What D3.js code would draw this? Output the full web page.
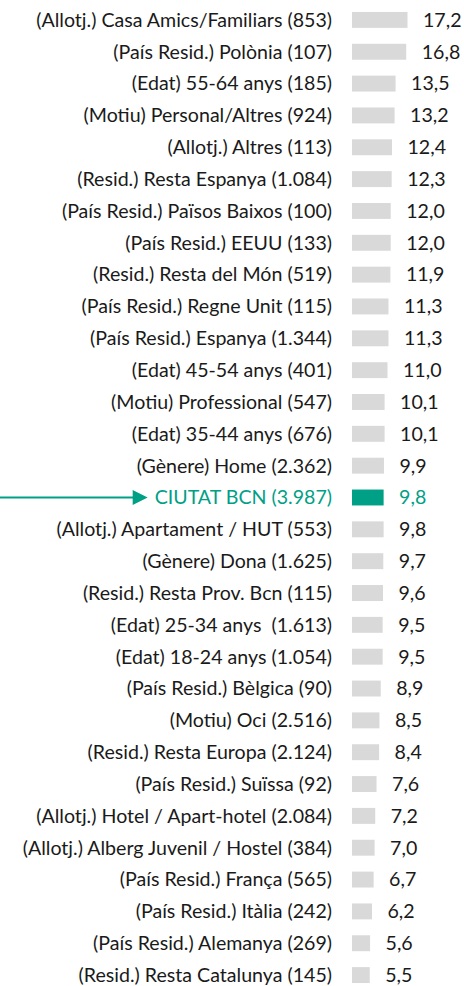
<!DOCTYPE html>
<html>
<head>
<meta charset="utf-8">
<script src="https://cdn.jsdelivr.net/npm/d3@7"></script>
<style>
  html, body { margin: 0; padding: 0; background: #fff; }
  svg { display: block; }
  text { font-family: Lato, "Noto Sans", sans-serif; white-space: pre; }
</style>
</head>
<body>
<svg id="chart" width="464" height="986"></svg>
<script>
// Segment labels (with sample size) and their values
const categories = [
  "(Allotj.) Casa Amics/Familiars (853)",
  "(País Resid.) Polònia (107)",
  "(Edat) 55-64 anys (185)",
  "(Motiu) Personal/Altres (924)",
  "(Allotj.) Altres (113)",
  "(Resid.) Resta Espanya (1.084)",
  "(País Resid.) Països Baixos (100)",
  "(País Resid.) EEUU (133)",
  "(Resid.) Resta del Món (519)",
  "(País Resid.) Regne Unit (115)",
  "(País Resid.) Espanya (1.344)",
  "(Edat) 45-54 anys (401)",
  "(Motiu) Professional (547)",
  "(Edat) 35-44 anys (676)",
  "(Gènere) Home (2.362)",
  "CIUTAT BCN (3.987)",
  "(Allotj.) Apartament / HUT (553)",
  "(Gènere) Dona (1.625)",
  "(Resid.) Resta Prov. Bcn (115)",
  "(Edat) 25-34 anys  (1.613)",
  "(Edat) 18-24 anys (1.054)",
  "(País Resid.) Bèlgica (90)",
  "(Motiu) Oci (2.516)",
  "(Resid.) Resta Europa (2.124)",
  "(País Resid.) Suïssa (92)",
  "(Allotj.) Hotel / Apart-hotel (2.084)",
  "(Allotj.) Alberg Juvenil / Hostel (384)",
  "(País Resid.) França (565)",
  "(País Resid.) Itàlia (242)",
  "(País Resid.) Alemanya (269)",
  "(Resid.) Resta Catalunya (145)"
];
const values = [
  17.2, 16.8, 13.5, 13.2, 12.4, 12.3, 12.0, 12.0, 11.9, 11.3, 11.3,
  11.0, 10.1, 10.1, 9.9, 9.8, 9.8, 9.7, 9.6, 9.5, 9.5, 8.9, 8.5,
  8.4, 7.6, 7.2, 7.0, 6.7, 6.2, 5.6, 5.5
];
const highlight = "CIUTAT BCN (3.987)";

const data = categories.map((c, i) => ({ label: c, value: values[i] }));

const svg = d3.select("#chart");
const barX0 = 352;
const labelRight = 332;
const fontSize = 19.6;
const teal = "#00A086";
const grey = "#D9D9D9";
const ink = "#1a1a1a";
const fmt = v => d3.format(".1f")(v).replace(".", ",");

const x = d3.scaleLinear().domain([0, 17.2]).range([barX0, 407.5]);
const y = d3.scaleBand().domain(categories).range([4, 991]).paddingInner(0.5).paddingOuter(0.25);

const rows = svg.append("g").selectAll("g")
  .data(data).join("g")
  .attr("transform", d => `translate(0,${y(d.label)})`);

rows.append("rect")
  .attr("x", x(0))
  .attr("y", 0)
  .attr("width", d => x(d.value) - x(0))
  .attr("height", y.bandwidth())
  .attr("fill", d => d.label === highlight ? teal : grey);

const labels = rows.append("text")
  .attr("x", labelRight)
  .attr("y", y.bandwidth() / 2)
  .attr("dy", "0.35em")
  .attr("text-anchor", "end")
  .attr("font-size", fontSize)
  .attr("fill", d => d.label === highlight ? teal : ink)
  .text(d => d.label);

rows.append("text")
  .attr("x", d => x(d.value) + 15.5)
  .attr("y", y.bandwidth() / 2)
  .attr("dy", "0.35em")
  .attr("font-size", fontSize)
  .attr("fill", d => d.label === highlight ? teal : ink)
  .text(d => fmt(d.value));

// Pointer arrow toward the city-wide total row, ending just before its label
const yc = y(highlight) + y.bandwidth() / 2;
const hlNode = labels.filter(d => d.label === highlight).node();
const tip = hlNode.getBBox().x - 7;
svg.append("line")
  .attr("x1", 0).attr("x2", tip - 13)
  .attr("y1", yc).attr("y2", yc)
  .attr("stroke", teal).attr("stroke-width", 2);
svg.append("path")
  .attr("d", `M${tip - 15},${yc - 7.5} L${tip},${yc} L${tip - 15},${yc + 7.5} Z`)
  .attr("fill", teal);
</script>
</body>
</html>
